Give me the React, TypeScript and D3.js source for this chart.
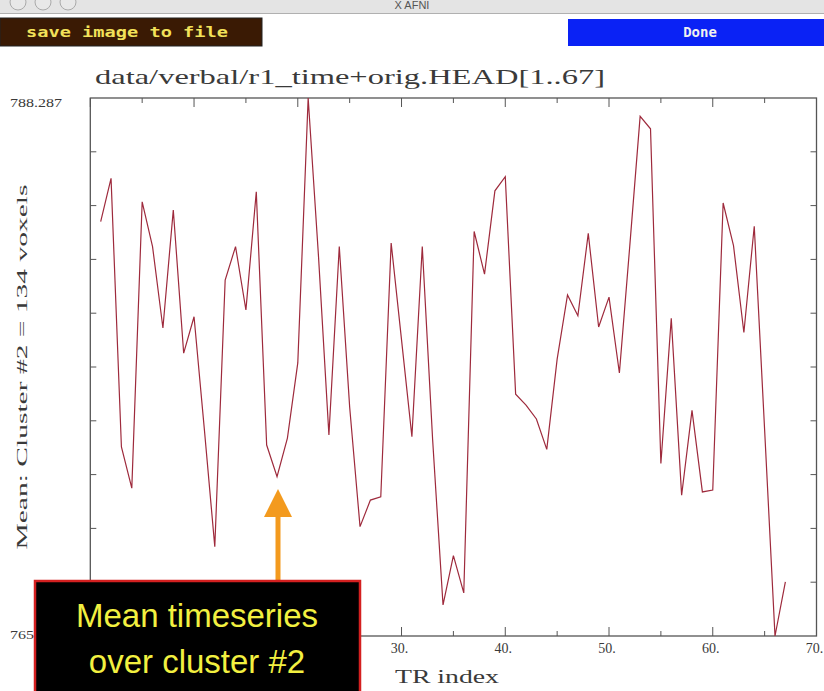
import React from "react";
import * as d3 from "d3";

const TITLE = "data/verbal/r1_time+orig.HEAD[1..67]";
const Y_LABEL = "Mean: Cluster #2 = 134 voxels";
const X_LABEL = "TR index";
const Y_MAX = 788.287;
const Y_MIN = 765.812;
const X_DOMAIN = [0, 70];
// labels 0., 10., 20. lie under the annotation box in the reference
const X_TICK_LABELS = [30, 40, 50, 60, 70];

const meanValues = [
  783.12, 784.93, 773.71, 771.99, 783.95, 782.08, 778.68, 783.61, 777.63, 779.15,
  774.42, 769.54, 780.68, 782.08, 779.43, 784.37, 773.79, 772.47, 774.08, 777.22,
  788.287, 781.65, 774.21, 782.08, 775.38, 770.38, 771.49, 771.63, 782.23, 778.18,
  774.14, 782.08, 774.0, 767.11, 769.17, 767.61, 782.71, 780.93, 784.41, 785.0,
  775.91, 775.46, 774.88, 773.61, 777.38, 780.06, 779.19, 782.63, 778.72, 779.97,
  776.8, 782.1, 787.52, 787.0, 773.02, 779.08, 771.69, 775.24, 771.83, 771.91,
  783.9, 782.12, 778.49, 782.93, 774.42, 765.812, 768.07,
];

const ANNOT_LINES = ["Mean timeseries", "over cluster #2"];

export default function App() {
  const W = 824, H = 691;
  const left = 90.3, right = 816.5, top = 98, bottom = 636;
  const x = d3.scaleLinear().domain(X_DOMAIN).range([left, right]);
  const y = d3.scaleLinear().domain([Y_MIN, Y_MAX]).range([bottom, top]);
  const pts = meanValues.map((v, i) => [i + 1, v] as [number, number]);
  const line = d3.line<[number, number]>().x(d => x(d[0])).y(d => y(d[1]));
  const xTicks = d3.range(X_DOMAIN[0], X_DOMAIN[1] + 1, 5);
  const yTicks = d3.range(1, 10).map(i => Y_MIN + (i * (Y_MAX - Y_MIN)) / 10);
  const frame = "#555";
  const txt = "#3a3a3a";
  const serif = "'Liberation Serif', 'DejaVu Serif', serif";
  const arrowX = 278;

  return (
    <svg width={W} height={H} style={{ position: "absolute", left: 0, top: 0, background: "#fff" }}>
      <rect x={0} y={0} width={W} height={H} fill="#fff" />
      {/* window title bar */}
      <rect x={0} y={0} width={W} height={13} fill="#e4e4e4" />
      <line x1={0} x2={W} y1={13.5} y2={13.5} stroke="#b0b0b0" />
      {[18, 43, 68].map(cx => (
        <circle key={cx} cx={cx} cy={2} r={8} fill="#e8e8e8" stroke="#aaa" />
      ))}
      <text x={412} y={9} fontFamily="'Liberation Sans', sans-serif" fontSize={11} fill="#555" textAnchor="middle">X AFNI</text>

      {/* buttons */}
      <rect x={0} y={18} width={262} height={28} fill="#3a1a04" stroke="#222" />
      <text x={26} y={37} fontFamily="'DejaVu Sans Mono', monospace" fontWeight="bold" fontSize={14.5} fill="#f2e25a" textLength={202} lengthAdjust="spacingAndGlyphs">save image to file</text>
      <rect x={568} y={19} width={256} height={27} fill="#0a22f5" />
      <text x={700} y={37} fontFamily="'DejaVu Sans Mono', monospace" fontWeight="bold" fontSize={14} fill="#f0f0f0" textAnchor="middle">Done</text>

      {/* title */}
      <text x={95} y={84} fontFamily={serif} fontSize={21} fill={txt} textLength={510} lengthAdjust="spacingAndGlyphs">{TITLE}</text>

      {/* y label */}
      <text transform={`translate(27, ${367}) rotate(-90)`} fontFamily={serif} fontSize={15.5} fill={txt} textAnchor="middle" textLength={365} lengthAdjust="spacingAndGlyphs">{Y_LABEL}</text>

      <text x={10} y={107} fontFamily={serif} fontSize={11.5} fill={txt} textLength={52} lengthAdjust="spacingAndGlyphs">{Y_MAX.toFixed(3)}</text>
      <text x={10} y={639} fontFamily={serif} fontSize={11.5} fill={txt} textLength={52} lengthAdjust="spacingAndGlyphs">{Y_MIN.toFixed(3)}</text>

      {/* frame */}
      <rect x={left} y={top} width={right - left} height={bottom - top} fill="none" stroke={frame} strokeWidth={1.3} />
      {xTicks.map(t => {
        const len = t % 10 === 0 ? 9 : 5;
        return (
          <g key={t}>
            <line x1={x(t)} x2={x(t)} y1={bottom} y2={bottom - len} stroke={frame} />
            <line x1={x(t)} x2={x(t)} y1={top} y2={top + len} stroke={frame} />
          </g>
        );
      })}
      {yTicks.map((t, i) => (
        <g key={i}>
          <line x1={left} x2={left + 6} y1={y(t)} y2={y(t)} stroke={frame} />
          <line x1={right} x2={right - 6} y1={y(t)} y2={y(t)} stroke={frame} />
        </g>
      ))}
      {X_TICK_LABELS.map(t => (
        <text key={t} x={x(t) - 2} y={653} fontFamily={serif} fontSize={14} fill={txt} textAnchor="middle">{`${t}.`}</text>
      ))}
      <text x={395} y={683} fontFamily={serif} fontSize={19} fill={txt} textLength={104} lengthAdjust="spacingAndGlyphs">{X_LABEL}</text>

      {/* data line */}
      <path d={line(pts) || ""} fill="none" stroke="#9e2a3c" strokeWidth={1.2} />

      {/* annotation arrow */}
      <rect x={arrowX - 2.5} y={512} width={5} height={70} fill="#f39a1e" />
      <polygon points={`${arrowX},489 ${arrowX - 14},517 ${arrowX + 14},517`} fill="#f39a1e" />

      {/* annotation box */}
      <rect x={35} y={581} width={325} height={115} fill="#000" stroke="#d42020" strokeWidth={2.5} />
      {ANNOT_LINES.map((s, i) => (
        <text key={i} x={197} y={627 + i * 46} fontFamily="'Liberation Sans', Arial, sans-serif" fontSize={33} fill="#f2f040" textAnchor="middle">{s}</text>
      ))}
    </svg>
  );
}
